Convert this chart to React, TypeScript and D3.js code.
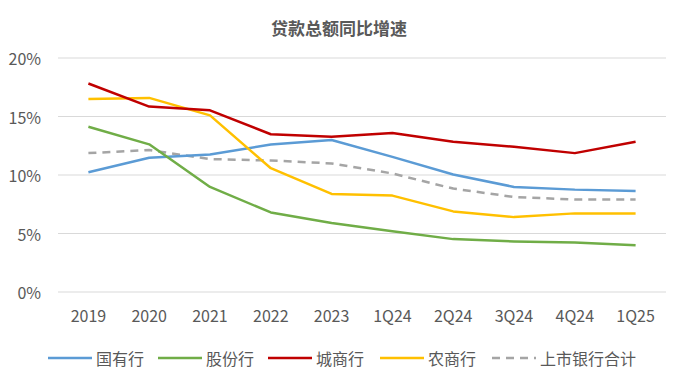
import { useRef, useEffect } from 'react';
import * as d3 from 'd3';

const categories = ['2019', '2020', '2021', '2022', '2023', '1Q24', '2Q24', '3Q24', '4Q24', '1Q25'];
const seriesNames = ['国有行', '股份行', '城商行', '农商行', '上市银行合计'];
const stateOwned = [10.24, 11.47, 11.76, 12.6, 12.99, 11.55, 10.04, 8.98, 8.75, 8.64];
const jointStock = [14.13, 12.62, 8.98, 6.8, 5.89, 5.2, 4.52, 4.32, 4.23, 4.0];
const cityBanks = [17.82, 15.85, 15.53, 13.48, 13.27, 13.59, 12.84, 12.41, 11.87, 12.84];
const ruralBanks = [16.5, 16.59, 15.1, 10.58, 8.38, 8.24, 6.89, 6.4, 6.72, 6.72];
const listedTotal = [11.87, 12.13, 11.36, 11.24, 10.99, 10.13, 8.84, 8.12, 7.9, 7.9];
const yTicks = [0, 5, 10, 15, 20];

const colors = ['#5B9BD5', '#70AD47', '#C00000', '#FFC000', '#A5A5A5'];
const dashes = [null, null, null, null, '8,6'];

const W = 681;
const H = 384;
const FONT = '"Microsoft YaHei", "Noto Sans CJK SC", "Noto Sans", sans-serif';

const App = () => {
  const svgRef = useRef<SVGSVGElement>(null);

  useEffect(() => {
    if (!svgRef.current) return;
    const svg = d3.select(svgRef.current);
    svg.selectAll('*').remove();

    const margin = { left: 58, right: 15, top: 58, bottom: 92 };
    const x = d3.scaleBand<string>()
      .domain(categories)
      .range([margin.left, W - margin.right]);
    const y = d3.scaleLinear()
      .domain([0, 20])
      .range([H - margin.bottom, margin.top]);

    svg.append('rect').attr('width', W).attr('height', H).attr('fill', '#fff');

    // title
    svg.append('text')
      .attr('x', 339)
      .attr('y', 27)
      .attr('text-anchor', 'middle')
      .attr('dominant-baseline', 'central')
      .attr('font-family', FONT)
      .attr('font-size', 17)
      .attr('font-weight', 'bold')
      .attr('fill', '#595959')
      .text('贷款总额同比增速');

    // grid + y labels
    const grid = svg.append('g');
    yTicks.forEach(t => {
      grid.append('line')
        .attr('x1', margin.left)
        .attr('x2', W - margin.right)
        .attr('y1', y(t))
        .attr('y2', y(t))
        .attr('stroke', '#D9D9D9')
        .attr('stroke-width', 1);
      grid.append('text')
        .attr('x', 41)
        .attr('y', y(t))
        .attr('text-anchor', 'end')
        .attr('dominant-baseline', 'central')
        .attr('font-family', FONT)
        .attr('font-size', 16)
        .attr('fill', '#595959')
        .text(`${t}%`);
    });

    // x labels
    svg.append('g').selectAll('text')
      .data(categories)
      .enter()
      .append('text')
      .attr('x', d => (x(d) ?? 0) + x.bandwidth() / 2)
      .attr('y', 315)
      .attr('text-anchor', 'middle')
      .attr('dominant-baseline', 'central')
      .attr('font-family', FONT)
      .attr('font-size', 16)
      .attr('fill', '#595959')
      .text(d => d);

    // lines
    const allSeries = [stateOwned, jointStock, cityBanks, ruralBanks, listedTotal];
    const line = d3.line<number>()
      .x((_, i) => (x(categories[i]) ?? 0) + x.bandwidth() / 2)
      .y(d => y(d));

    const drawOrder = [4, 0, 1, 3, 2];
    drawOrder.forEach(s => {
      svg.append('path')
        .datum(allSeries[s])
        .attr('d', line)
        .attr('fill', 'none')
        .attr('stroke', colors[s])
        .attr('stroke-width', 2.5)
        .attr('stroke-linejoin', 'round')
        .attr('stroke-dasharray', dashes[s]);
    });

    // legend
    const legendX = [48, 158, 268, 380, 492];
    const legend = svg.append('g');
    seriesNames.forEach((name, i) => {
      legend.append('line')
        .attr('x1', legendX[i])
        .attr('x2', legendX[i] + 44)
        .attr('y1', 358)
        .attr('y2', 358)
        .attr('stroke', colors[i])
        .attr('stroke-width', 2.5)
        .attr('stroke-dasharray', dashes[i]);
      legend.append('text')
        .attr('x', legendX[i] + 48)
        .attr('y', 358)
        .attr('dominant-baseline', 'central')
        .attr('font-family', FONT)
        .attr('font-size', 16)
        .attr('fill', '#595959')
        .text(name);
    });
  }, []);

  return (
    <svg
      ref={svgRef}
      width={W}
      height={H}
      style={{ position: 'absolute', left: 0, top: 0 }}
    />
  );
};

export default App;
